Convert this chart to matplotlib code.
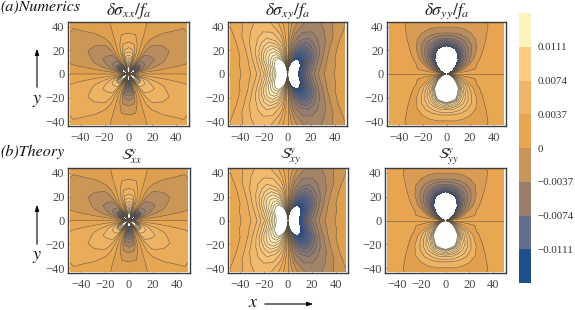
import numpy as np
import matplotlib
matplotlib.use('Agg')
import matplotlib.pyplot as plt
from matplotlib.colors import LinearSegmentedColormap, ListedColormap, to_hex
from matplotlib.patches import Rectangle

# Field values, in units of 1e-4, one row per angle
angles = [0, 10, 20, 30, 40, 50, 60, 70, 80, 90]
radii = [3, 6, 9, 12, 16, 20, 25, 30, 36, 43, 52, 70]

sxx = [
    [0, 0, 0, 0, 0, 0, 0, 0, 0, 0, 0, 0],
    [-110, -36, -24, -20, -18, -17, -16, -15, -14, -13, -11.5, -7.5],
    [-220, -110, -62, -48, -38, -33, -28.5, -25.5, -20, -16, -13, -7.5],
    [-300, -155, -110, -60, -48, -41, -36, -31.5, -27, -20, -15, -9],
    [-250, -150, -105, -58, -47, -40, -34.5, -30, -25, -19, -14.5, -9],
    [-100, -130, -85, -54, -42, -37, -31, -27, -18, -13, -9, -6],
    [15, 0, -3, -6, -7.5, -9, -11.5, -12, -10, -7.5, -4.5, -2.4],
    [160, 54, 31, 20, 14, 10.5, 6, 3, 1.2, 0, -0.9, -0.6],
    [220, 125, 92, 75, 56, 38, 25.5, 16, 10, 6, 3, 1.5],
    [260, 155, 120, 90, 60, 43, 28.5, 18, 10.5, 6.6, 3.6, 1.8],
]

sxy = [
    [240, 200, 150, 126, 88, 58, 39, 26, 15, 9, 6, 3],
    [250, 210, 155, 128, 96, 70, 45, 29, 19, 10, 6, 3],
    [260, 220, 170, 135, 105, 81, 55, 39, 23, 12, 7, 3],
    [280, 240, 180, 150, 124, 101, 75, 51, 35, 20, 9, 3],
    [300, 260, 200, 160, 135, 112, 92, 66, 46, 35, 22, 7],
    [350, 300, 240, 180, 140, 120, 100, 76, 54, 42, 32, 12],
    [350, 300, 240, 180, 137, 115, 96, 76, 58, 45, 38, 24],
    [300, 260, 190, 138, 114, 96, 76, 60, 50, 42, 35, 20],
    [250, 132, 104, 84, 66, 57, 48, 41, 33, 24, 18, 10],
    [0, 0, 0, 0, 0, 0, 0, 0, 0, 0, 0, 0],
]

syy = [
    [0, 0, 0, 0, 0, 0, 0, 0, 0, 0, 0, 0],
    [82, 33, 21, 19, 16.5, 14.4, 12, 8.8, 6.4, 4.8, 3.2, 2.4],
    [150, 90, 65, 47, 30, 19.5, 14, 10.4, 8, 5.6, 4.8, 3.2],
    [170, 150, 106, 76, 58, 42, 28, 17.5, 10.4, 8, 6.4, 4],
    [200, 190, 160, 118, 84, 62, 43, 30, 19.5, 12, 8.8, 4.8],
    [220, 250, 220, 180, 138, 90, 62, 43, 28, 17.5, 13, 6.4],
    [250, 300, 280, 240, 190, 125, 78, 54, 33, 19.5, 14, 7.2],
    [300, 350, 350, 320, 260, 190, 102, 59, 34, 20, 14.4, 8],
    [400, 400, 400, 380, 320, 220, 108, 64, 32, 19.5, 14.4, 8],
    [400, 400, 400, 400, 350, 260, 125, 62, 30, 19, 14.4, 8],
]

levels = [-148, -144, -132, -120, -108, -96, -84, -72, -60, -48, -36, -24, -12, 0,
          12, 24, 36, 48, 60, 72, 84, 96, 108, 120, 132, 144, 148]

cmap_vals = [-148, -111, -74, -37, -12, 0, 12, 37, 74, 111, 148]
cmap_cols = ['#19468c', '#465f8c', '#7d737d', '#aa8764', '#d79b52', '#e6a34e', '#e8a855',
             '#f0b669', '#facd87', '#fee8af', '#fffad7']
pos = [(v + 148) / 296 for v in cmap_vals]
field_cmap = LinearSegmentedColormap.from_list('field', list(zip(pos, cmap_cols)))

cb_edges = [-0.0148, -0.0111, -0.0074, -0.0037, 0, 0.0037, 0.0074, 0.0111, 0.0148]
cb_colors = ['#1e508c', '#646e91', '#9b7d6e', '#c8965a', '#e6a550', '#eeb469', '#facd82', '#fdf3be']
cb_ticks = [-0.0111, -0.0074, -0.0037, 0, 0.0037, 0.0074, 0.0111]
cb_labels = ['\u22120.0111', '\u22120.0074', '\u22120.0037', '0', '0.0037', '0.0074', '0.0111']

titles = [r'$\delta\sigma_{xx}/f_a$', r'$\delta\sigma_{xy}/f_a$', r'$\delta\sigma_{yy}/f_a$',
          r'$\mathcal{S}^{y}_{xx}$', r'$\mathcal{S}^{y}_{xy}$', r'$\mathcal{S}^{y}_{yy}$']
ticks = [-40, -20, 0, 20, 40]

plt.rcParams['font.family'] = 'Liberation Serif'
plt.rcParams['mathtext.fontset'] = 'stix'

W, H = 575, 310
fig = plt.figure(figsize=(W / 100, H / 100), dpi=100)


def add_px_axes(left, top, right, bottom):
    return fig.add_axes([left / W, 1 - bottom / H, (right - left) / W, (bottom - top) / H])


def px_text(x, y, s, **kw):
    fig.text(x / W, 1 - y / H, s, **kw)


def full_field(table, x_sign, y_sign):
    # the tables hold one quadrant, the others follow from the mirror symmetry
    q = np.array(table, dtype=float)
    q = np.c_[q[:, 0], q]
    upper = np.r_[q, x_sign * q[-2::-1]]
    return np.r_[upper, y_sign * upper[-2::-1]]


r_mesh = np.array([0.5] + radii, dtype=float)
th = np.array(angles, dtype=float)
th = np.r_[th, 180 - th[-2::-1]]
th = np.r_[th, 360 - th[-2::-1]]
T, R = np.meshgrid(np.deg2rad(th), r_mesh, indexing='ij')
X, Y = R * np.cos(T), R * np.sin(T)

fields = [full_field(sxx, 1, -1), full_field(-np.array(sxy), -1, 1), full_field(-np.array(syy), 1, -1)]
frames = [(68, 22, 189, 126), (228, 22, 347, 126), (387, 22, 506, 126),
          (68, 168, 190, 273), (228, 168, 348, 273), (385, 168, 506, 273)]
mids = (np.array(levels[:-1]) + np.array(levels[1:])) / 2
base_colors = [to_hex(field_cmap((m + 148) / 296)) for m in mids]

for i, frame in enumerate(frames):
    ax = add_px_axes(*frame)
    Z = fields[i % 3]
    colors = list(base_colors)
    if i % 3 == 2:
        # the flat bands beside the yy lobes are darker than the outer corners
        colors[11] = '#da9c55'
        colors[12] = '#e8a450'
        colors[13] = '#e8a852'
        colors[14] = '#e2a04e'
    filled = ax.contourf(X, Y, Z, levels=levels, colors=colors)
    lines = ax.contour(X, Y, Z, levels=levels[1:-1], colors='#5a4e40', linewidths=0.45,
                       linestyles='solid', alpha=0.8)
    clip = Rectangle((-49, -43), 98, 86, transform=ax.transData)
    filled.set_clip_path(clip)
    lines.set_clip_path(clip)
    ax.set_xlim(-50.5, 50.5)
    ax.set_ylim(-44.2, 44.2)
    ax.set_xticks(ticks)
    ax.set_yticks(ticks)
    ax.tick_params(direction='in', length=1.5, width=0.4, color='#777777', labelcolor='#4a4a4a',
                   labelsize=9)
    ax.tick_params(axis='x', pad=4.5)
    ax.tick_params(axis='y', pad=2.5)
    for spine in ax.spines.values():
        spine.set_color('#3c3c3c')
        spine.set_linewidth(1.0)
    cx = (frame[0] + frame[2]) / 2
    if i < 3:
        px_text(cx, 11, titles[i], ha='center', va='center', fontsize=12.5, color='#222222')
    else:
        px_text(cx + 3, 157, titles[i], ha='center', va='center', fontsize=11, color='#222222')

cax = add_px_axes(519, 13, 531, 283)
cax.pcolormesh([0, 1], cb_edges, np.arange(8).reshape(-1, 1),
               cmap=ListedColormap(cb_colors), vmin=0, vmax=7)
cax.set_xticks([])
cax.yaxis.tick_right()
cax.set_yticks(cb_ticks)
cax.set_yticklabels(cb_labels)
cax.tick_params(length=0, labelsize=7.9, labelcolor='#333333', pad=5)
for spine in cax.spines.values():
    spine.set_visible(False)

italic = dict(family='STIXGeneral', style='italic', color='#111111')
px_text(0, 7, '(a)Numerics', ha='left', va='center', fontsize=11.5, **italic)
px_text(0, 152, '(b)Theory', ha='left', va='center', fontsize=11.5, **italic)
px_text(36, 99, 'y', ha='center', va='center', fontsize=13, **italic)
px_text(36, 255, 'y', ha='center', va='center', fontsize=13, **italic)
px_text(252, 303, 'x', ha='center', va='center', fontsize=13, **italic)

arrow = dict(arrowstyle='-|>,head_width=0.12,head_length=0.35', color='black', lw=0.8)
fig.add_artist(plt.Annotation('', xy=(37 / W, 1 - 46 / H), xytext=(37 / W, 1 - 90 / H),
                              xycoords='figure fraction', textcoords='figure fraction', arrowprops=arrow))
fig.add_artist(plt.Annotation('', xy=(37 / W, 1 - 202 / H), xytext=(37 / W, 1 - 247 / H),
                              xycoords='figure fraction', textcoords='figure fraction', arrowprops=arrow))
fig.add_artist(plt.Annotation('', xy=(316 / W, 1 - 304 / H), xytext=(262 / W, 1 - 304 / H),
                              xycoords='figure fraction', textcoords='figure fraction', arrowprops=arrow))

fig.savefig('out.png', dpi=100)
